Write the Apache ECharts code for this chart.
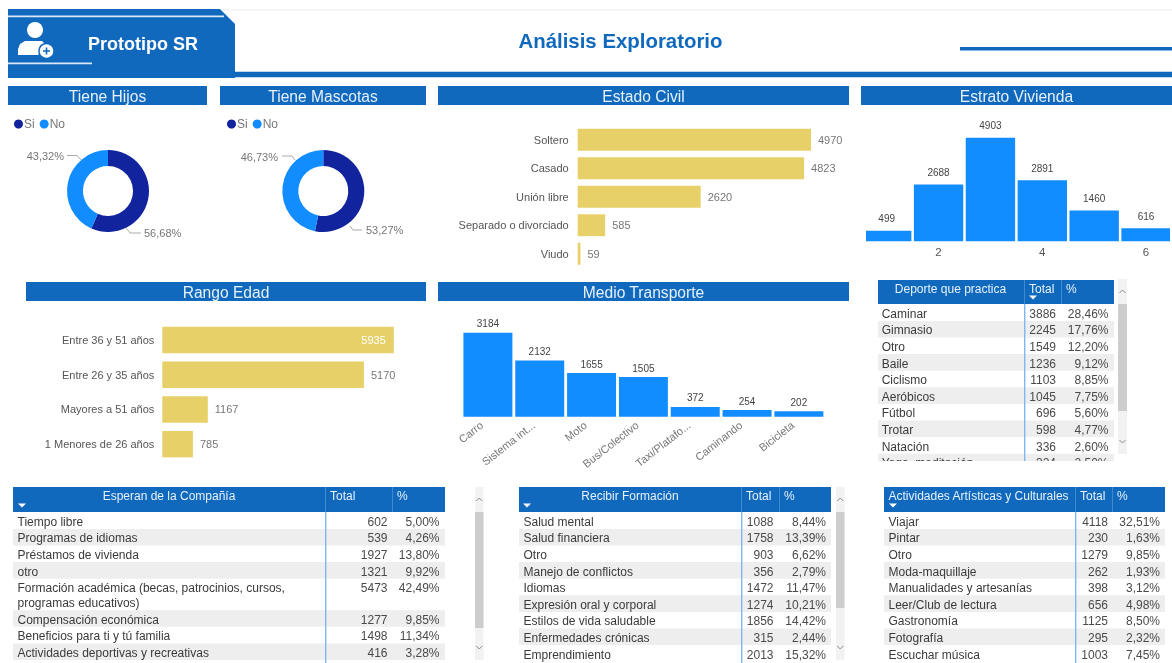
<!DOCTYPE html>
<html lang="es">
<head>
<meta charset="utf-8">
<title>Análisis Exploratorio</title>
<style>html,body{margin:0;padding:0;background:#fff;overflow:hidden}#c{width:1172px;height:663px;filter:blur(0.45px)}</style>
<script src="https://cdn.jsdelivr.net/npm/echarts@6/dist/echarts.min.js"></script>
</head>
<body>
<div id="c"></div>
<script>
// ---- data ----
const pieNames = ['Si', 'No'];
const hijosPct = [56.68, 43.32];
const mascotasPct = [53.27, 46.73];
const civilCats = ['Soltero', 'Casado', 'Unión libre', 'Separado o divorciado', 'Viudo'];
const civilVals = [4970, 4823, 2620, 585, 59];
const estratoCats = ['1', '2', '3', '4', '5', '6'];
const estratoVals = [499, 2688, 4903, 2891, 1460, 616];
const edadCats = ['Entre 36 y 51 años', 'Entre 26 y 35 años', 'Mayores a 51 años', '1 Menores de 26 años'];
const edadVals = [5935, 5170, 1167, 785];
const transCats = ['Carro', 'Sistema int...', 'Moto', 'Bus/Colectivo', 'Taxi/Platafo...', 'Caminando', 'Bicicleta'];
const transVals = [3184, 2132, 1655, 1505, 372, 254, 202];

const deporteNames = ['Caminar', 'Gimnasio', 'Otro', 'Baile', 'Ciclismo', 'Aeróbicos', 'Fútbol', 'Trotar', 'Natación', 'Yoga, meditación'];
const deporteTotal = [3886, 2245, 1549, 1236, 1103, 1045, 696, 598, 336, 324];
const deportePct = ['28,46%', '17,76%', '12,20%', '9,12%', '8,85%', '7,75%', '5,60%', '4,77%', '2,60%', '2,50%'];

const companiaNames = ['Tiempo libre', 'Programas de idiomas', 'Préstamos de vivienda', 'otro', 'Formación académica (becas, patrocinios, cursos,\nprogramas educativos)', 'Compensación económica', 'Beneficios para ti y tú familia', 'Actividades deportivas y recreativas'];
const companiaTotal = [602, 539, 1927, 1321, 5473, 1277, 1498, 416];
const companiaPct = ['5,00%', '4,26%', '13,80%', '9,92%', '42,49%', '9,85%', '11,34%', '3,28%'];

const formacionNames = ['Salud mental', 'Salud financiera', 'Otro', 'Manejo de conflictos', 'Idiomas', 'Expresión oral y corporal', 'Estilos de vida saludable', 'Enfermedades crónicas', 'Emprendimiento'];
const formacionTotal = [1088, 1758, 903, 356, 1472, 1274, 1856, 315, 2013];
const formacionPct = ['8,44%', '13,39%', '6,62%', '2,79%', '11,47%', '10,21%', '14,42%', '2,44%', '15,32%'];

const artesNames = ['Viajar', 'Pintar', 'Otro', 'Moda-maquillaje', 'Manualidades y artesanías', 'Leer/Club de lectura', 'Gastronomía', 'Fotografía', 'Escuchar música'];
const artesTotal = [4118, 230, 1279, 262, 398, 656, 1125, 295, 1003];
const artesPct = ['32,51%', '1,63%', '9,85%', '1,93%', '3,12%', '4,98%', '8,50%', '2,32%', '7,45%'];

// ---- style ----
const FONT = '"Liberation Sans", Arial, sans-serif';
const HEAD = '#1169bd', BRIGHT = '#118dff', DARK = '#12239e', YELLOW = '#e8d068';
const g = [];
const rect = (x, y, w, h, fill, z) => g.push({type: 'rect', shape: {x, y, width: w, height: h}, style: {fill}, z: z || 0, silent: true});
const txt = (x, y, text, o) => g.push({type: 'text', x, y, z: (o && o.z) || 3, silent: true, style: Object.assign({text, fontFamily: FONT, fontSize: 12, fill: '#3a3a3a', textAlign: 'left', textVerticalAlign: 'middle'}, o || {})});
const tri = (cx, cy) => g.push({type: 'polygon', shape: {points: [[cx - 4, cy - 2], [cx + 4, cy - 2], [cx, cy + 2]]}, style: {fill: '#fff'}, z: 4, silent: true});
const chev = (cx, cy, up) => g.push({type: 'polyline', shape: {points: up ? [[cx - 3, cy + 2], [cx, cy - 1], [cx + 3, cy + 2]] : [[cx - 3, cy - 2], [cx, cy + 1], [cx + 3, cy - 2]]}, style: {stroke: '#8a8a8a', lineWidth: 1, fill: 'none'}, z: 4, silent: true});

// header
rect(222, 9, 950, 1.5, '#f2f2f2');
g.push({type: 'polygon', shape: {points: [[8, 9], [220, 9], [235, 24], [235, 78], [8, 78]]}, style: {fill: HEAD}, silent: true, z: 1});
rect(8, 15.5, 216, 1.8, '#d7e8f8', 2);
rect(8, 62.5, 84, 1.8, '#d7e8f8', 2);
rect(235, 71.7, 937, 5.6, HEAD, 1);
rect(960, 47, 212, 3.6, HEAD, 1);
g.push({type: 'circle', shape: {cx: 35, cy: 30, r: 8}, style: {fill: '#fff'}, z: 3, silent: true});
g.push({type: 'polygon', shape: {points: [[18, 55], [18, 49], [20, 44], [25, 41], [42, 41], [46, 45], [38, 55]]}, style: {fill: '#fff'}, z: 3, silent: true});
g.push({type: 'circle', shape: {cx: 46.5, cy: 51, r: 7.5}, style: {fill: '#fff', stroke: HEAD, lineWidth: 1.5}, z: 4, silent: true});
rect(43, 50.2, 7, 1.6, HEAD, 5);
rect(45.7, 47.5, 1.6, 7, HEAD, 5);
txt(88, 43.5, 'Prototipo SR', {fontSize: 18, fontWeight: 'bold', fill: '#fff'});
txt(620.5, 41, 'Análisis Exploratorio', {fontSize: 20.4, fontWeight: 'bold', fill: HEAD, textAlign: 'center'});

// section titles
[[8, 86, 199, 'Tiene Hijos'], [220, 86, 206, 'Tiene Mascotas'], [438, 86, 411, 'Estado Civil'], [861, 86, 311, 'Estrato Vivienda'], [26, 282, 400, 'Rango Edad'], [438, 282, 411, 'Medio Transporte']].forEach(([x, y, w, t]) => {
  rect(x, y, w, 19, HEAD, 1);
  txt(x + w / 2, y + 10, t, {fontSize: 15.6, fill: '#e6f1fb', textAlign: 'center'});
});

// tables
function table(t) {
  rect(t.x0, t.headTop, t.x1 - t.x0, t.headBot - t.headTop, HEAD, 1);
  rect(t.sep, t.headTop, 1, t.headBot - t.headTop, '#3f8bd0', 2);
  rect(t.divX, t.headTop, 1, t.headBot - t.headTop, '#3f8bd0', 2);
  if (t.headCenter) txt(t.headCenter, t.headTop + 8.5, t.head, {fill: '#e6f1fb', textAlign: 'center'});
  else txt(t.nameX, t.headTop + 8.5, t.head, {fill: '#e6f1fb'});
  txt(t.divX + 5, t.headTop + 8.5, 'Total', {fill: '#e6f1fb'});
  txt(t.sep + 5, t.headTop + 8.5, '%', {fill: '#e6f1fb'});
  tri(t.arrowX, t.headBot - 6.5);
  let y = t.headBot + 0.3;
  t.names.forEach((n, i) => {
    const lines = n.split('\n').length;
    const h = lines > 1 ? 31.5 : 16.6;
    if (i % 2 === 1) rect(t.x0, y, t.x1 - t.x0, h, '#eeeeee', 1);
    const cy = y + 9.4;
    if (lines > 1) n.split('\n').forEach((l, k) => txt(t.nameX, cy + k * 14.6, l));
    else txt(t.nameX, cy, n);
    txt(t.totalR, cy, String(t.totals[i]), {textAlign: 'right', fill: '#4a4a4a'});
    txt(t.pctR, cy, t.pcts[i], {textAlign: 'right', fill: '#4a4a4a'});
    y += h;
  });
  rect(t.divX, t.headBot, 1.4, t.bottom - t.headBot, '#7db9f0', 2);
  if (t.bottom < 663) rect(t.x0 - 2, t.bottom, t.x1 - t.x0 + 4, 12, '#fff', 6);
  if (t.bar) {
    rect(t.bar.x, t.bar.top, t.bar.w, t.bar.bot - t.bar.top, '#f2f2f2', 1);
    rect(t.bar.x, t.headBot, t.bar.w, t.bar.thumbBot - t.headBot, '#cdcdcd', 2);
    chev(t.bar.x + t.bar.w / 2, t.bar.top + 12, true);
    chev(t.bar.x + t.bar.w / 2, t.bar.bot - 12, false);
  }
}
table({head: 'Deporte que practica', names: deporteNames, totals: deporteTotal, pcts: deportePct, x0: 878, x1: 1114, headTop: 280, headBot: 304, divX: 1024, sep: 1061, headCenter: 950.5, nameX: 881.7, totalR: 1056, pctR: 1108.5, arrowX: 1033, bottom: 461, bar: {x: 1118, w: 9, top: 279, bot: 454, thumbBot: 411}});
table({head: 'Esperan de la Compañía', names: companiaNames, totals: companiaTotal, pcts: companiaPct, x0: 13, x1: 445, headTop: 487, headBot: 512, divX: 325, sep: 392, headCenter: 169, nameX: 17.5, totalR: 387.5, pctR: 439.5, arrowX: 22, bottom: 663, bar: {x: 475, w: 8.5, top: 487, bot: 660, thumbBot: 628}});
table({head: 'Recibir Formación', names: formacionNames, totals: formacionTotal, pcts: formacionPct, x0: 519, x1: 831, headTop: 487, headBot: 512, divX: 741, sep: 779, headCenter: 630, nameX: 523.5, totalR: 773.5, pctR: 826, arrowX: 527, bottom: 663, bar: {x: 836, w: 8.5, top: 487, bot: 660, thumbBot: 608}});
table({head: 'Actividades Artísticas y Culturales', names: artesNames, totals: artesTotal, pcts: artesPct, x0: 884, x1: 1165, headTop: 487, headBot: 512, divX: 1075, sep: 1112, nameX: 888.5, totalR: 1108, pctR: 1160, arrowX: 893, bottom: 663});

// clip the Estrato plot like the reference
rect(858, 120, 8, 125, '#fff', 20);
rect(1170, 120, 2, 125, '#fff', 20);

// ---- chart helpers ----
const hBar = (name, vals, axis, first) => ({
  type: 'bar', name, xAxisIndex: axis, yAxisIndex: axis, barCategoryGap: axis === 0 ? '23%' : '24%', silent: true,
  itemStyle: {color: YELLOW},
  label: {show: true, position: 'right', distance: 7, color: '#777', fontFamily: FONT, fontSize: 11},
  data: vals.map((v, i) => first && i === 0 ? {value: v, label: {position: 'insideRight', distance: 8, color: '#fff'}} : v)
});
const vBar = (name, vals, axis, gap, dist) => ({
  type: 'bar', name, xAxisIndex: axis, yAxisIndex: axis, barCategoryGap: gap, silent: true,
  itemStyle: {color: BRIGHT},
  label: {show: true, position: 'top', distance: dist, color: '#444', fontFamily: FONT, fontSize: 10},
  data: vals
});
const pctText = v => v.toFixed(2).replace('.', ',') + '%';
const pie = (name, vals, cx, layouts) => ({
  type: 'pie', name, center: [cx, 191], radius: [25, 41], startAngle: 90, clockwise: true, silent: true,
  label: {show: true, position: 'outside', color: '#777', fontFamily: FONT, fontSize: 11, formatter: p => pctText(p.value)},
  labelLine: {show: true, length: 6, length2: 8, smooth: false, lineStyle: {color: '#aaa', width: 1}},
  labelLayout: p => layouts[p.dataIndex],
  data: pieNames.map((n, i) => ({name: n, value: vals[i], itemStyle: {color: i === 0 ? DARK : BRIGHT}}))
});
const hijosLayout = [
  {x: 144, y: 233, align: 'left', verticalAlign: 'middle', labelLinePoints: [[126, 228], [130, 233], [141, 233]]},
  {x: 64, y: 156, align: 'right', verticalAlign: 'middle', labelLinePoints: [[81, 160], [77, 155.5], [67, 155.5]]}
];
const mascotasLayout = [
  {x: 366, y: 230, align: 'left', verticalAlign: 'middle', labelLinePoints: [[350, 226], [353, 230], [362, 230]]},
  {x: 278, y: 157, align: 'right', verticalAlign: 'middle', labelLinePoints: [[295, 160], [292, 156], [282, 156]]}
];
const legendOf = left => ({left, top: 113, orient: 'horizontal', data: pieNames, icon: 'circle', itemWidth: 9, itemHeight: 9, itemGap: 5, selectedMode: false, textStyle: {color: '#777', fontFamily: FONT, fontSize: 12, padding: [0, 0, 0, -4]}});
const catLabel = {color: '#555', fontFamily: FONT, fontSize: 11};

const chart = echarts.init(document.getElementById('c'), null, {renderer: 'svg'});
chart.setOption({
  animation: false,
  backgroundColor: '#fff',
  graphic: {elements: g},
  legend: [legendOf(9), legendOf(222)],
  grid: [
    {left: 577.7, top: 125.5, width: 234.7, height: 142.5},
    {left: 162.3, top: 322.7, width: 234, height: 138.8},
    {left: 860.75, top: 135.7, width: 315, height: 105.6},
    {left: 462, top: 324.4, width: 362.8, height: 92.3}
  ],
  xAxis: [
    {type: 'value', gridIndex: 0, min: 0, max: 5000, show: false},
    {type: 'value', gridIndex: 1, min: 0, max: 6000, show: false},
    {type: 'category', gridIndex: 2, data: estratoCats, axisLine: {show: false}, axisTick: {show: false},
      axisLabel: Object.assign({}, catLabel, {interval: (i) => i % 2 === 1, margin: 5, fontSize: 11.5})},
    {type: 'category', gridIndex: 3, data: transCats, axisLine: {show: false}, axisTick: {show: false},
      axisLabel: Object.assign({}, catLabel, {interval: 0, rotate: 38, margin: 2, padding: [0, 8, 0, 0], color: '#777'})}
  ],
  yAxis: [
    {type: 'category', gridIndex: 0, data: civilCats, inverse: true, axisLine: {show: false}, axisTick: {show: false}, axisLabel: Object.assign({}, catLabel, {margin: 9})},
    {type: 'category', gridIndex: 1, data: edadCats, inverse: true, axisLine: {show: false}, axisTick: {show: false}, axisLabel: Object.assign({}, catLabel, {margin: 8})},
    {type: 'value', gridIndex: 2, min: 0, max: 5000, show: false},
    {type: 'value', gridIndex: 3, min: 0, max: 3500, show: false}
  ],
  series: [
    pie('Tiene Hijos', hijosPct, 108, hijosLayout),
    pie('Tiene Mascotas', mascotasPct, 323.3, mascotasLayout),
    hBar('Estado Civil', civilVals, 0, false),
    hBar('Rango Edad', edadVals, 1, true),
    vBar('Estrato Vivienda', estratoVals, 2, '4.8%', 7),
    vBar('Medio Transporte', transVals, 3, '5.5%', 4)
  ]
});
</script>
</body>
</html>
